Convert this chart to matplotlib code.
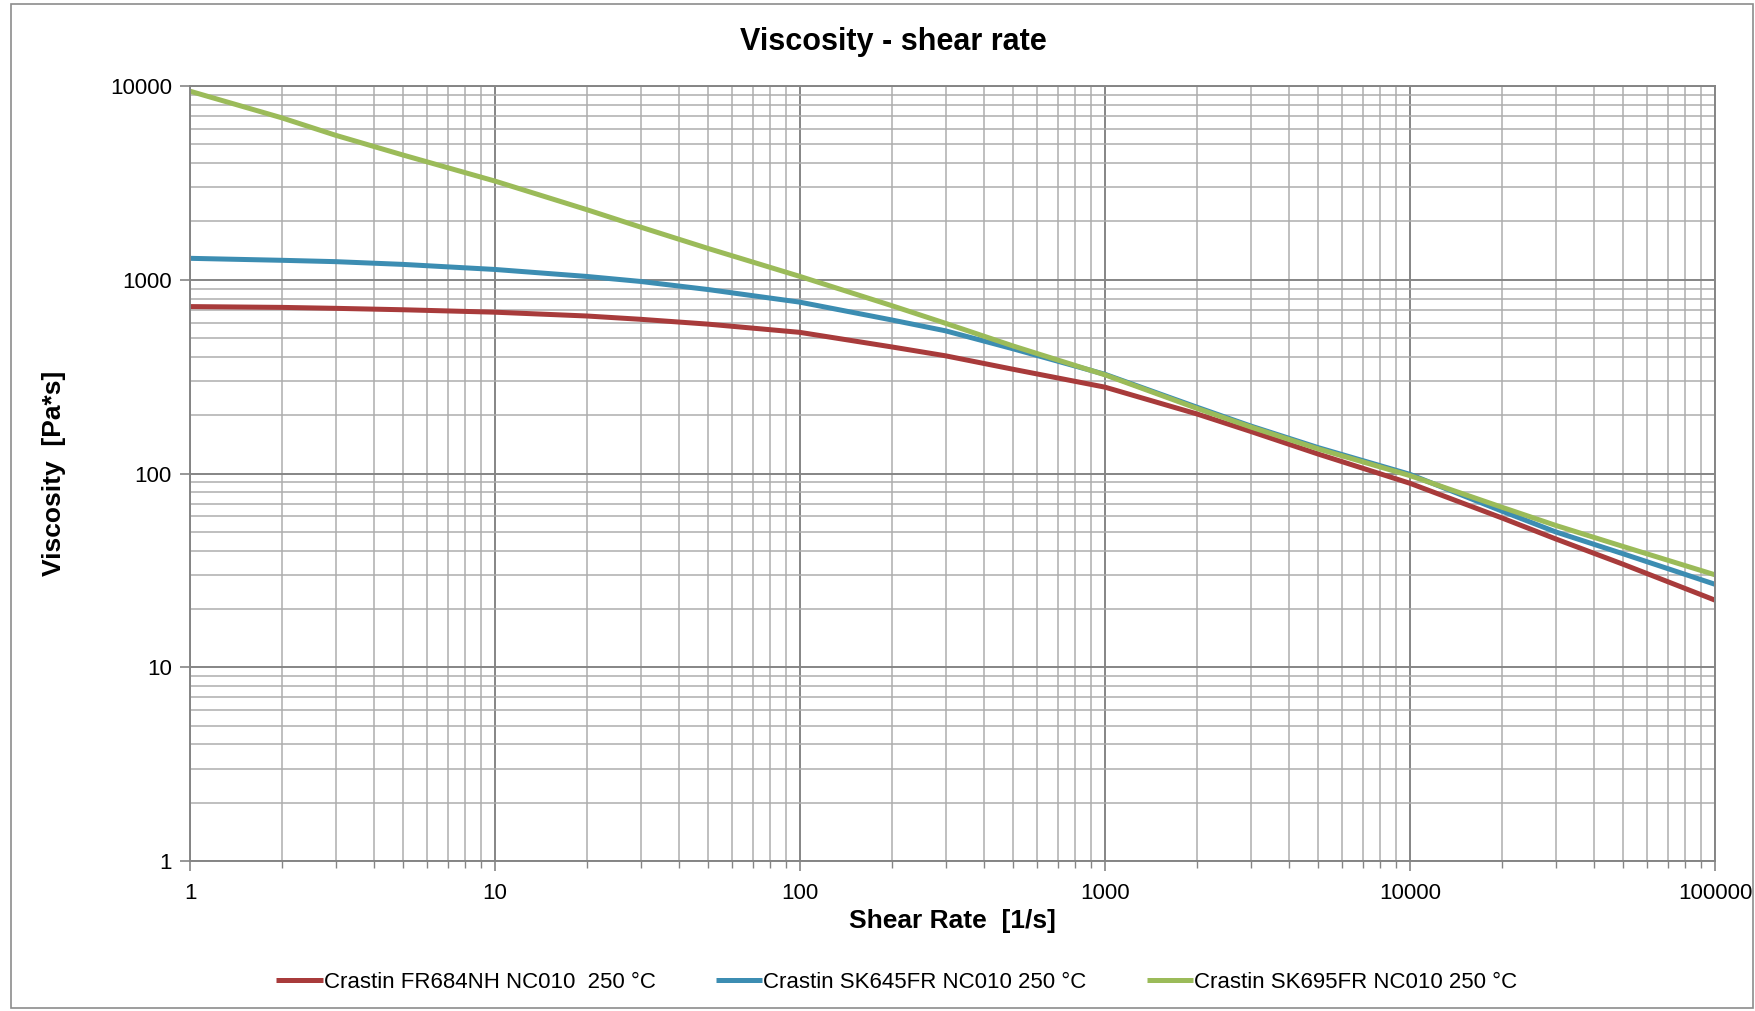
import numpy as np
import matplotlib.pyplot as plt
from matplotlib.ticker import LogLocator, FixedLocator, NullFormatter
from matplotlib.patches import Rectangle

plt.rcParams['font.family'] = ['Liberation Sans', 'DejaVu Sans']

# shear rate [1/s]
shear_rate = [1, 2, 3, 5, 10, 20, 30, 50, 100, 200, 300, 500,
              1000, 2000, 3000, 5000, 10000, 20000, 30000, 50000, 100000]

# viscosity [Pa*s]
visc_fr684nh = [727, 720, 712, 700, 680, 650, 625, 590, 535, 450, 405, 345,
                279, 203, 165, 126, 89, 59, 46, 34, 22.2]
visc_sk645fr = [1290, 1260, 1240, 1200, 1130, 1040, 980, 890, 766, 620, 545, 440,
                325, 220, 176, 136, 99, 64, 50, 38.5, 26.8]
visc_sk695fr = [9400, 6850, 5570, 4400, 3230, 2300, 1870, 1450, 1040, 735, 596, 455,
                323, 217, 174, 134, 97.5, 67, 54, 42, 30]

labels = ["Crastin FR684NH NC010  250 \u00b0C",
          "Crastin SK645FR NC010 250 \u00b0C",
          "Crastin SK695FR NC010 250 \u00b0C"]
colors = ["#a83b3b", "#3c8db2", "#9bbb59"]

fig = plt.figure(figsize=(17.55, 10.11), dpi=100)
ax = fig.add_axes([190 / 1755, 150 / 1011, 1525 / 1755, 775 / 1011])

for y, lab, c in zip([visc_fr684nh, visc_sk645fr, visc_sk695fr], labels, colors):
    ax.plot(shear_rate, y, color=c, lw=3.6, label=lab, solid_capstyle='butt')

ax.set_xscale('log')
ax.set_yscale('log')
ax.set_xlim(1, 100000)
ax.set_ylim(1, 10000)

ax.xaxis.set_major_locator(FixedLocator([1, 10, 100, 1000, 10000, 100000]))
ax.yaxis.set_major_locator(FixedLocator([1, 10, 100, 1000, 10000]))
ax.xaxis.set_minor_locator(LogLocator(base=10, subs=np.arange(2, 10), numticks=20))
ax.yaxis.set_minor_locator(LogLocator(base=10, subs=np.arange(2, 10), numticks=20))
ax.xaxis.set_minor_formatter(NullFormatter())
ax.yaxis.set_minor_formatter(NullFormatter())
ax.set_xticklabels(['1', '10', '100', '1000', '10000', '100000'])
ax.set_yticklabels(['1', '10', '100', '1000', '10000'])

ax.grid(which='major', color='#858585', lw=1.4)
ax.grid(which='minor', color='#adadad', lw=1.1)
ax.set_axisbelow(True)

for s in ax.spines.values():
    s.set_color('#858585')
    s.set_linewidth(1.4)

ax.tick_params(axis='x', which='major', direction='out', length=7, width=1.2,
               color='#858585', labelsize=16, pad=9)
ax.tick_params(axis='x', which='minor', direction='out', length=5, width=1.0,
               color='#858585')
ax.tick_params(axis='y', which='major', direction='out', length=7, width=1.2,
               color='#858585', labelsize=16, pad=6)
ax.tick_params(axis='y', which='minor', length=0)

fig.text(0.509, 0.958, "Viscosity - shear rate", ha='center', va='center',
         fontsize=22, fontweight='bold')
fig.text(952 / 1755, 0.089, "Shear Rate  [1/s]", ha='center', va='center',
         fontsize=19, fontweight='bold')
fig.text(0.031, 0.532, "Viscosity  [Pa*s]", ha='center', va='center',
         fontsize=19, fontweight='bold', rotation=90)

fig.legend(loc='center', bbox_to_anchor=(0.511, 0.028), ncol=3, frameon=False,
           fontsize=16, handlelength=2.1, handletextpad=0.05, columnspacing=2.7)

fig.add_artist(Rectangle((0.006, 0.003), 0.993, 0.993, transform=fig.transFigure,
                         fill=False, edgecolor='#8c8c8c', lw=1.2))

fig.savefig("out.png", dpi=100)
